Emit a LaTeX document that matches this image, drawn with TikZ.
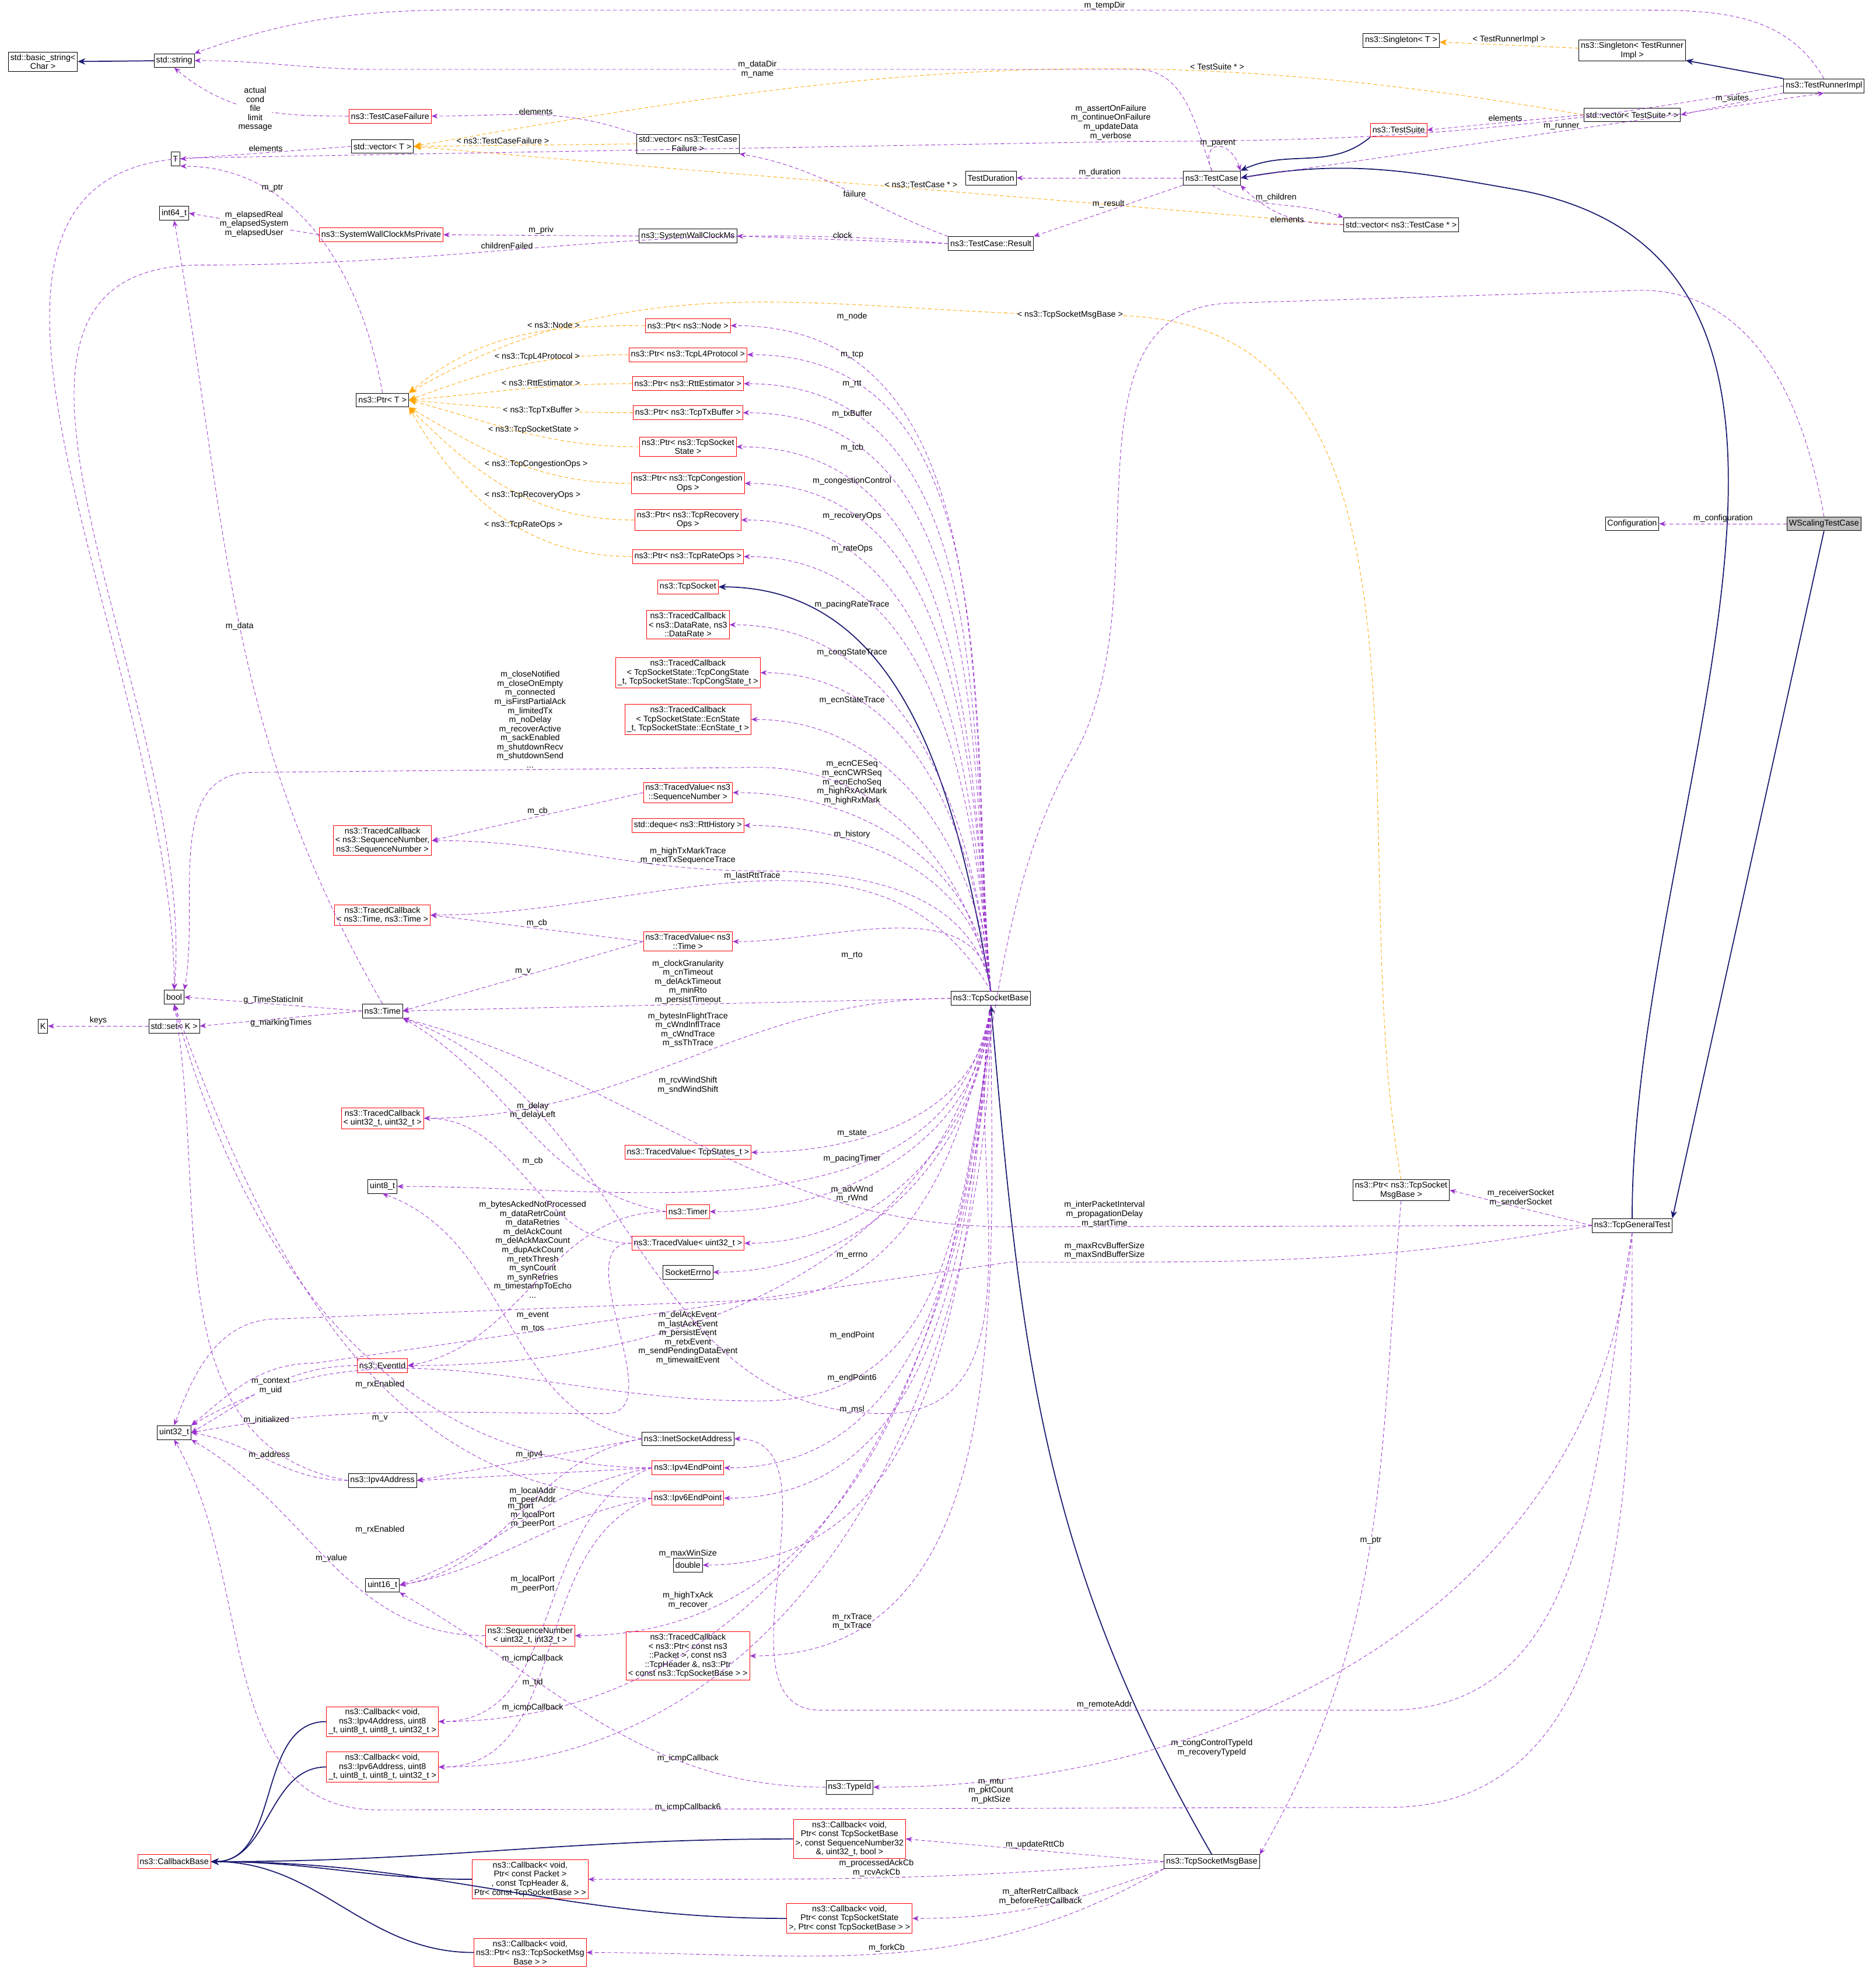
\documentclass[tikz,border=0pt]{standalone}
\usepackage{fontspec}
\setmainfont{Liberation Sans}
\usetikzlibrary{arrows.meta}
\definecolor{usec}{HTML}{9A32CD}
\definecolor{inhc}{HTML}{191970}
\definecolor{tplc}{HTML}{FFA500}
\begin{document}
\begin{tikzpicture}[x=1pt,y=-1pt,
 box/.style={draw=black,fill=white,text=black,font=\fontsize{6.6}{7.2}\selectfont,inner sep=1.6pt,minimum height=11pt,align=center},
 rbox/.style={box,draw=red},
 gbox/.style={box,fill=black!25},
 lbl/.style={text=black,font=\fontsize{6.6}{7.2}\selectfont,align=center,inner sep=0pt},
 use/.style={densely dashed,usec,-{Stealth[length=5pt,width=4pt]}},
 inh/.style={inhc,thick,-{Stealth[length=6pt,width=5pt]}},
 tpl/.style={densely dashed,tplc,-{Stealth[length=6pt,width=5pt]}}]
\useasboundingbox (0,0) rectangle (1486,1568);
% nodes
\node[box] (bs) at (34,49) {std::basic\_string\textless\\Char \textgreater};
\node[box] (str) at (138,48) {std::string};
\node[rbox] (tcf) at (309,92) {ns3::TestCaseFailure};
\node[box] (vecT) at (303,116) {std::vector\textless{} T \textgreater};
\node[box] (T) at (139,126) {T};
\node[box] (i64) at (138,169) {int64\_t};
\node[rbox] (swp) at (302,186) {ns3::SystemWallClockMsPrivate};
\node[box] (vtcf) at (545,114) {std::vector\textless{} ns3::TestCase\\Failure \textgreater};
\node[box] (swc) at (545,187) {ns3::SystemWallClockMs};
\node[box] (res) at (785,193) {ns3::TestCase::Result};
\node[box] (dur) at (785,141) {TestDuration};
\node[box] (tc) at (960,141) {ns3::TestCase};
\node[rbox] (ts) at (1108,103) {ns3::TestSuite};
\node[box] (vtc) at (1110,178) {std::vector\textless{} ns3::TestCase * \textgreater};
\node[box] (sgT) at (1110,32) {ns3::Singleton\textless{} T \textgreater};
\node[box] (sgR) at (1293,40) {ns3::Singleton\textless{} TestRunner\\Impl \textgreater};
\node[box] (vts) at (1293,91) {std::vector\textless{} TestSuite * \textgreater};
\node[box] (tri) at (1445,68) {ns3::TestRunnerImpl};
\node[box] (cfg) at (1293,415) {Configuration};
\node[gbox] (ws) at (1445,415) {WScalingTestCase};
\node[box] (ptrT) at (303,317) {ns3::Ptr\textless{} T \textgreater};
\node[rbox] (pnode) at (545,258) {ns3::Ptr\textless{} ns3::Node \textgreater};
\node[rbox] (pl4) at (545,281) {ns3::Ptr\textless{} ns3::TcpL4Protocol \textgreater};
\node[rbox] (prtt) at (545,304) {ns3::Ptr\textless{} ns3::RttEstimator \textgreater};
\node[rbox] (ptx) at (545,327) {ns3::Ptr\textless{} ns3::TcpTxBuffer \textgreater};
\node[rbox] (pst) at (545,354) {ns3::Ptr\textless{} ns3::TcpSocket\\State \textgreater};
\node[rbox] (pcg) at (545,383) {ns3::Ptr\textless{} ns3::TcpCongestion\\Ops \textgreater};
\node[rbox] (prc) at (545,412) {ns3::Ptr\textless{} ns3::TcpRecovery\\Ops \textgreater};
\node[rbox] (pro) at (545,441) {ns3::Ptr\textless{} ns3::TcpRateOps \textgreater};
\node[rbox] (tsk) at (545,465) {ns3::TcpSocket};
\node[rbox] (tcdr) at (545,495) {ns3::TracedCallback\\\textless{} ns3::DataRate, ns3\\::DataRate \textgreater};
\node[rbox] (tccs) at (545,533) {ns3::TracedCallback\\\textless{} TcpSocketState::TcpCongState\\\_t, TcpSocketState::TcpCongState\_t \textgreater};
\node[rbox] (tces) at (545,570) {ns3::TracedCallback\\\textless{} TcpSocketState::EcnState\\\_t, TcpSocketState::EcnState\_t \textgreater};
\node[rbox] (tvsn) at (545,628) {ns3::TracedValue\textless{} ns3\\::SequenceNumber \textgreater};
\node[rbox] (dq) at (545,654) {std::deque\textless{} ns3::RttHistory \textgreater};
\node[rbox] (tcsn) at (303,666) {ns3::TracedCallback\\\textless{} ns3::SequenceNumber,\\ ns3::SequenceNumber \textgreater};
\node[rbox] (tct) at (303,725) {ns3::TracedCallback\\\textless{} ns3::Time, ns3::Time \textgreater};
\node[rbox] (tvt) at (545,746) {ns3::TracedValue\textless{} ns3\\::Time \textgreater};
\node[box] (tsb) at (785,791) {ns3::TcpSocketBase};
\node[box] (bool) at (138,790) {bool};
\node[box] (time) at (303,801) {ns3::Time};
\node[box] (K) at (34,813) {K};
\node[box] (setK) at (138,813) {std::set\textless{} K \textgreater};
\node[rbox] (tcu) at (303,886) {ns3::TracedCallback\\\textless{} uint32\_t, uint32\_t \textgreater};
\node[box] (u8) at (303,940) {uint8\_t};
\node[rbox] (tvst) at (545,913) {ns3::TracedValue\textless{} TcpStates\_t \textgreater};
\node[rbox] (timer) at (545,960) {ns3::Timer};
\node[rbox] (tvu) at (545,985) {ns3::TracedValue\textless{} uint32\_t \textgreater};
\node[box] (err) at (545,1008) {SocketErrno};
\node[rbox] (ev) at (303,1082) {ns3::EventId};
\node[box] (u32) at (138,1135) {uint32\_t};
\node[box] (inet) at (545,1140) {ns3::InetSocketAddress};
\node[rbox] (ep4) at (545,1163) {ns3::Ipv4EndPoint};
\node[rbox] (ep6) at (545,1187) {ns3::Ipv6EndPoint};
\node[box] (ip4) at (303,1173) {ns3::Ipv4Address};
\node[box] (dbl) at (545,1240) {double};
\node[box] (u16) at (303,1256) {uint16\_t};
\node[rbox] (sn) at (420,1296) {ns3::SequenceNumber\\\textless{} uint32\_t, int32\_t \textgreater};
\node[rbox] (tcpk) at (545,1312) {ns3::TracedCallback\\\textless{} ns3::Ptr\textless{} const ns3\\::Packet \textgreater, const ns3\\::TcpHeader \&, ns3::Ptr\\\textless{} const ns3::TcpSocketBase \textgreater{} \textgreater};
\node[rbox] (cb4) at (303,1364) {ns3::Callback\textless{} void,\\ ns3::Ipv4Address, uint8\\\_t, uint8\_t, uint8\_t, uint32\_t \textgreater};
\node[rbox] (cb6) at (303,1400) {ns3::Callback\textless{} void,\\ ns3::Ipv6Address, uint8\\\_t, uint8\_t, uint8\_t, uint32\_t \textgreater};
\node[box] (tid) at (673,1416) {ns3::TypeId};
\node[rbox] (cbb) at (138,1475) {ns3::CallbackBase};
\node[rbox] (cbr) at (673,1457) {ns3::Callback\textless{} void,\\ Ptr\textless{} const TcpSocketBase\\ \textgreater, const SequenceNumber32\\ \&, uint32\_t, bool \textgreater};
\node[rbox] (cbp) at (420,1489) {ns3::Callback\textless{} void,\\ Ptr\textless{} const Packet \textgreater\\, const TcpHeader \&,\\ Ptr\textless{} const TcpSocketBase \textgreater{} \textgreater};
\node[rbox] (cbs) at (673,1520) {ns3::Callback\textless{} void,\\ Ptr\textless{} const TcpSocketState\\ \textgreater, Ptr\textless{} const TcpSocketBase \textgreater{} \textgreater};
\node[rbox] (cbm) at (420,1547) {ns3::Callback\textless{} void,\\ ns3::Ptr\textless{} ns3::TcpSocketMsg\\Base \textgreater{} \textgreater};
\node[box] (msg) at (960,1475) {ns3::TcpSocketMsgBase};
\node[box] (pmsg) at (1110,943) {ns3::Ptr\textless{} ns3::TcpSocket\\MsgBase \textgreater};
\node[box] (gen) at (1293,971) {ns3::TcpGeneralTest};
% inheritance
\draw[inh] (str) -- (bs);
\draw[inh] (tri.north west) -- (sgR);
\draw[inh] (ts.south west) to[out=220,in=25] (tc.north east);
\draw[inh] (gen.north) to[out=90,in=-10] (1200,150) to[out=170,in=10] (tc.east);
\draw[inh] (ws.south) -- (gen.north east);
\draw[inh] (tsb.north) to[out=100,in=0] (tsk.east);
\draw[inh] (msg.north) to[out=120,in=-85] (tsb.south);
\foreach \c in {cb4,cb6,cbr,cbp,cbs,cbm} \draw[inh] (\c) to[out=180,in=0] (cbb.east);
% templates
\draw[tpl] (sgR) -- node[lbl,fill=white,above=1pt]{\textless{} TestRunnerImpl \textgreater} (sgT);
\draw[tpl] (vts.west) to[out=170,in=10] node[lbl,pos=0.3,above=1pt]{\textless{} TestSuite * \textgreater} (vecT.east);
\draw[tpl] (vtcf.west) -- node[lbl,above=1pt,pos=0.6]{\textless{} ns3::TestCaseFailure \textgreater} (vecT.east);
\draw[tpl] (vtc.west) to[out=175,in=-5] node[lbl,pos=0.45,above=1pt]{\textless{} ns3::TestCase * \textgreater} (vecT.east);
\draw[tpl] (pnode.west) to[out=180,in=40] node[lbl,pos=0.35,above=1pt]{\textless{} ns3::Node \textgreater} (ptrT.north east);
\draw[tpl] (pl4.west) to[out=180,in=20] node[lbl,pos=0.4,above=1pt]{\textless{} ns3::TcpL4Protocol \textgreater} (ptrT.east);
\draw[tpl] (prtt.west) to[out=180,in=5] node[lbl,pos=0.4,above=1pt]{\textless{} ns3::RttEstimator \textgreater} (ptrT.east);
\draw[tpl] (ptx.west) to[out=180,in=-5] node[lbl,pos=0.4,fill=white]{\textless{} ns3::TcpTxBuffer \textgreater} (ptrT.east);
\draw[tpl] (pst.west) to[out=180,in=-15] node[lbl,pos=0.45,above=1pt]{\textless{} ns3::TcpSocketState \textgreater} (ptrT.east);
\draw[tpl] (pcg.west) to[out=180,in=-30] node[lbl,pos=0.4,above=1pt]{\textless{} ns3::TcpCongestionOps \textgreater} (ptrT.south east);
\draw[tpl] (prc.west) to[out=180,in=-45] node[lbl,pos=0.4,above=1pt]{\textless{} ns3::TcpRecoveryOps \textgreater} (ptrT.south east);
\draw[tpl] (pro.west) to[out=180,in=-60] node[lbl,pos=0.4,above=1pt]{\textless{} ns3::TcpRateOps \textgreater} (ptrT.south east);
\draw[tpl] (pmsg.north) to[out=100,in=0] (880,250) to[out=180,in=30] node[lbl,pos=0.05,fill=white]{\textless{} ns3::TcpSocketMsgBase \textgreater} (ptrT.north east);
% usage - top
\draw[use] (tri.north) to[out=120,in=0] (1300,8) -- node[lbl,above=0pt]{m\_tempDir} (450,8) to[out=180,in=20] (str.north east);
\draw[use] (tc.north) to[out=110,in=0] (900,55) -- node[lbl,fill=white]{m\_dataDir\\m\_name} (300,55) to[out=180,in=0] (str.east);
\draw[use] (tcf.west) to[out=180,in=-40] node[lbl,fill=white,pos=0.5]{actual\\cond\\file\\limit\\message} (str.south);
\draw[use] (vecT.west) -- node[lbl,above=1pt]{elements} (T.east);
\draw[use] (vtcf.north west) to[out=160,in=0] node[lbl,above=0pt]{elements} (tcf.east);
\draw[use] (res.north west) to[out=160,in=-10] node[lbl,pos=0.45,fill=white]{failure} (vtcf.south east);
\draw[use] (tri.west) to[out=190,in=0] (900,112) -- (160,125) to[out=180,in=90] (bool.north);
\node[lbl] (lassert) at (880,97) {m\_assertOnFailure\\m\_continueOnFailure\\m\_updateData\\m\_verbose};
\draw[use] (res.west) to[out=175,in=0] node[lbl,pos=0.6,above=1pt]{childrenFailed} (160,210) to[out=180,in=85] (bool.north);
\draw[use] (swp.west) -- node[lbl,fill=white]{m\_elapsedReal\\m\_elapsedSystem\\m\_elapsedUser} (i64.east);
\draw[use] (swc.west) -- node[lbl,above=1pt]{m\_priv} (swp.east);
\draw[use] (res.west) -- node[lbl,above=1pt]{clock} (swc.east);
\draw[use] (tc.west) -- node[lbl,above=1pt]{m\_duration} (dur.east);
\draw[use] (tc.south west) -- node[lbl,above=2pt]{m\_result} (res.north east);
\draw[use] (tc.north) .. controls (950,110) and (975,110) .. node[lbl,above=0pt]{m\_parent} (tc.north east);
\draw[use] (tc.south) to[out=-30,in=160] node[lbl,above=2pt]{m\_children} (vtc.north west);
\draw[use] (vtc.west) to[out=180,in=-45] node[lbl,below=0pt]{elements} (tc.south east);
\draw[use] (vts.west) -- node[lbl,above=1pt]{elements} (ts.east);
\draw[use] (tri.south west) -- node[lbl,above=1pt]{m\_suites} (vts.east);
\draw[use] (tc.east) -- node[lbl,above=1pt,pos=0.55]{m\_runner} (tri.south);
\draw[use] (ws.west) -- node[lbl,above=1pt]{m\_configuration} (cfg.east);
\draw[use] (ws.north) to[out=100,in=0] (1300,230) -- (980,240) to[out=180,in=60] (850,600) to[out=-120,in=0] (600,1110) to[out=180,in=30] (u32.north east);
\draw[use] (ptrT.north) to[out=100,in=0] node[lbl,pos=0.7,above=1pt]{m\_ptr} (T.south east);
% TcpSocketBase fan
\foreach \t/\l/\lx/\ly in {pnode/m\_node/675/251, pl4/m\_tcp/675/281, prtt/m\_rtt/675/304, ptx/m\_txBuffer/675/328, pst/m\_tcb/675/355, pcg/m\_congestionControl/675/381, prc/m\_recoveryOps/675/409, pro/m\_rateOps/675/435, tcdr/m\_pacingRateTrace/675/479, tccs/m\_congStateTrace/675/517, tces/m\_ecnStateTrace/675/555, dq/m\_history/675/661, tvt/m\_rto/675/757}
 {\draw[use] (tsb.north) to[out=95,in=0] (\t.east); \node[lbl] at (\lx,\ly) {\l};}
\draw[use] (tsb.north) to[out=95,in=0] (tvsn.east);
\node[lbl] (lecn) at (675,620) {m\_ecnCESeq\\m\_ecnCWRSeq\\m\_ecnEchoSeq\\m\_highRxAckMark\\m\_highRxMark};
\draw[use] (tsb.north) to[out=100,in=0] (600,608) -- (200,612) to[out=180,in=80] (bool.north east);
\node[lbl] (lclose) at (420,570) {m\_closeNotified\\m\_closeOnEmpty\\m\_connected\\m\_isFirstPartialAck\\m\_limitedTx\\m\_noDelay\\m\_recoverActive\\m\_sackEnabled\\m\_shutdownRecv\\m\_shutdownSend\\...};
\draw[use] (tsb.north) to[out=100,in=0] (600,690) to[out=180,in=0] (tcsn.east);
\node[lbl] (lhigh) at (545,678) {m\_highTxMarkTrace\\m\_nextTxSequenceTrace};
\draw[use] (tsb.north) to[out=120,in=0] node[lbl,pos=0.5,above=1pt]{m\_lastRttTrace} (tct.east);
\draw[use] (tsb.west) -- (time.east);
\node[lbl] (lclock) at (545,778) {m\_clockGranularity\\m\_cnTimeout\\m\_delAckTimeout\\m\_minRto\\m\_persistTimeout};
\draw[use] (tsb.west) to[out=180,in=0] (tcu.east);
\node[lbl] (lbif) at (545,816) {m\_bytesInFlightTrace\\m\_cWndInflTrace\\m\_cWndTrace\\m\_ssThTrace};
\draw[use] (tsb.south) to[out=-100,in=0] (u8.east);
\node[lbl] (lrcv) at (545,860) {m\_rcvWindShift\\m\_sndWindShift};
\foreach \t/\l/\lx/\ly in {tvst/m\_state/675/898, timer/m\_pacingTimer/675/918, err/m\_errno/675/995, ep4/m\_endPoint/675/1058, ep6/m\_endPoint6/675/1092, dbl/m\_maxWinSize/545/1231}
 {\draw[use] (tsb.south) to[out=-95,in=0] (\t.east); \node[lbl] at (\lx,\ly) {\l};}
\draw[use] (tsb.south) to[out=-95,in=0] (tvu.east); \node[lbl] at (675,946) {m\_advWnd\\m\_rWnd};
\draw[use] (tsb.south) to[out=-100,in=0] (600,1030) -- (220,1045) to[out=180,in=70] (u32.north);
\node[lbl] (lbytes) at (422,990) {m\_bytesAckedNotProcessed\\m\_dataRetrCount\\m\_dataRetries\\m\_delAckCount\\m\_delAckMaxCount\\m\_dupAckCount\\m\_retxThresh\\m\_synCount\\m\_synRetries\\m\_timestampToEcho\\...};
\draw[use] (tsb.south) to[out=-100,in=0] (ev.east); \node[lbl] at (545,1060) {m\_delAckEvent\\m\_lastAckEvent\\m\_persistEvent\\m\_retxEvent\\m\_sendPendingDataEvent\\m\_timewaitEvent};
\draw[use] (tsb.south) to[out=-100,in=0] (700,1120) to[out=180,in=-20] (time.south east); \node[lbl] at (675,1117) {m\_msl};
\draw[use] (tsb.south) to[out=-95,in=0] (sn.east); \node[lbl] at (545,1268) {m\_highTxAck\\m\_recover};
\draw[use] (tsb.south) to[out=-90,in=0] (tcpk.east); \node[lbl] at (675,1285) {m\_rxTrace\\m\_txTrace};
\draw[use] (tsb.south) to[out=-92,in=0] (cb4.east); \node[lbl] at (545,1393) {m\_icmpCallback};
\draw[use] (tsb.south) to[out=-90,in=0] (cb6.east); \node[lbl] at (545,1432) {m\_icmpCallback6};
% traced values etc
\draw[use] (tvsn.west) -- node[lbl,above=1pt]{m\_cb} (tcsn.east);
\draw[use] (tvt.west) -- node[lbl,above=1pt]{m\_cb} (tct.east);
\draw[use] (tvt.west) -- node[lbl,above=1pt]{m\_v} (time.east);
\draw[use] (tvu.west) to[out=180,in=0] (tcu.east); \node[lbl] at (422,920) {m\_cb};
\draw[use] (tvu.west) to[out=180,in=0] (480,1120) to[out=180,in=10] (u32.east); \node[lbl] at (301,1124) {m\_v};
\draw[use] (time.west) -- node[lbl,above=0pt]{g\_TimeStaticInit} (bool.east);
\draw[use] (time.west) -- node[lbl,below=0pt]{g\_markingTimes} (setK.east);
\draw[use] (setK.west) -- node[lbl,above=1pt]{keys} (K.east);
\draw[use] (time.north) to[out=120,in=-80] node[lbl,pos=0.5,fill=white]{m\_data} (i64.south);
\draw[use] (timer.west) to[out=170,in=-30] (time.south east); \node[lbl] at (422,880) {m\_delay\\m\_delayLeft};
\draw[use] (timer.west) to[out=180,in=10] (ev.east); \node[lbl] at (422,1042) {m\_event};
\draw[use] (ev.west) to[out=180,in=30] node[lbl,pos=0.5,fill=white]{m\_context\\m\_uid} (u32.east);
\draw[use] (inet.west) -- node[lbl,above=1pt]{m\_ipv4} (ip4.east);
\draw[use] (inet.west) to[out=190,in=10] node[lbl,above=1pt]{m\_port} (u16.east);
\draw[use] (inet.west) to[out=170,in=-20] (u8.south); \node[lbl] at (422,1053) {m\_tos};
\draw[use] (ip4.west) to[out=180,in=-10] node[lbl,above=1pt]{m\_address} (u32.east);
\draw[use] (ip4.west) to[out=170,in=-80] (bool.south); \node[lbl] at (211,1125) {m\_initialized};
\draw[use] (ep4.west) -- (ip4.east); \node[lbl] at (422,1185) {m\_localAddr\\m\_peerAddr};
\draw[use] (ep4.west) to[out=180,in=-75] (bool.south); \node[lbl] at (301,1097) {m\_rxEnabled};
\draw[use] (ep4.west) to[out=190,in=20] (u16.east); \node[lbl] at (422,1204) {m\_localPort\\m\_peerPort};
\draw[use] (ep6.west) to[out=190,in=10] (u16.east);
\draw[use] (ep6.west) to[out=180,in=-70] (bool.south); \node[lbl] at (301,1212) {m\_rxEnabled};
\node[lbl] at (422,1255) {m\_localPort\\m\_peerPort};
\draw[use] (ep4.west) to[out=200,in=0] (cb4.east); \node[lbl] at (422,1314) {m\_icmpCallback};
\draw[use] (ep6.west) to[out=200,in=0] (cb6.east); \node[lbl] at (422,1353) {m\_icmpCallback};
\draw[use] (sn.west) to[out=180,in=-30] node[lbl,pos=0.5,above=1pt]{m\_value} (u32.south east);
\draw[use] (tid.west) to[out=180,in=-30] (u16.south east); \node[lbl] at (422,1333) {m\_tid};
% TcpGeneralTest
\draw[use] (gen.west) -- node[lbl,above=1pt]{m\_receiverSocket\\m\_senderSocket} (pmsg.east);
\draw[use] (gen.west) -- (800,972) to[out=180,in=-15] (time.south east);
\node[lbl] (linter) at (875,962) {m\_interPacketInterval\\m\_propagationDelay\\m\_startTime};
\draw[use] (gen.west) to[out=190,in=0] (800,1000) -- (250,1080) to[out=180,in=40] (u32.north east);
\node[lbl] (lmax) at (875,991) {m\_maxRcvBufferSize\\m\_maxSndBufferSize};
\draw[use] (gen.south) to[out=-100,in=0] (1100,1355) -- node[lbl,above=1pt]{m\_remoteAddr} (650,1355) to[out=180,in=0] (inet.east);
\draw[use] (gen.south) to[out=-95,in=0] (tid.east);
\node[lbl] (lcong) at (960,1385) {m\_congControlTypeId\\m\_recoveryTypeId};
\draw[use] (gen.south) to[out=-90,in=0] (1100,1432) -- (300,1434) to[out=180,in=-60] (u32.south);
\node[lbl] (lmtu) at (785,1419) {m\_mtu\\m\_pktCount\\m\_pktSize};
\draw[use] (pmsg.south) to[out=-95,in=60] node[lbl,pos=0.5,fill=white]{m\_ptr} (msg.north east);
\draw[use] (msg.west) -- node[lbl,above=1pt]{m\_updateRttCb} (cbr.east);
\draw[use] (msg.west) to[out=185,in=0] node[lbl,pos=0.5,above=1pt]{m\_processedAckCb\\m\_rcvAckCb} (cbp.east);
\draw[use] (msg.south west) to[out=200,in=0] node[lbl,pos=0.5,above=1pt]{m\_afterRetrCallback\\m\_beforeRetrCallback} (cbs.east);
\draw[use] (msg.south west) to[out=210,in=0] node[lbl,pos=0.5,above=1pt]{m\_forkCb} (cbm.east);
\end{tikzpicture}
\end{document}
